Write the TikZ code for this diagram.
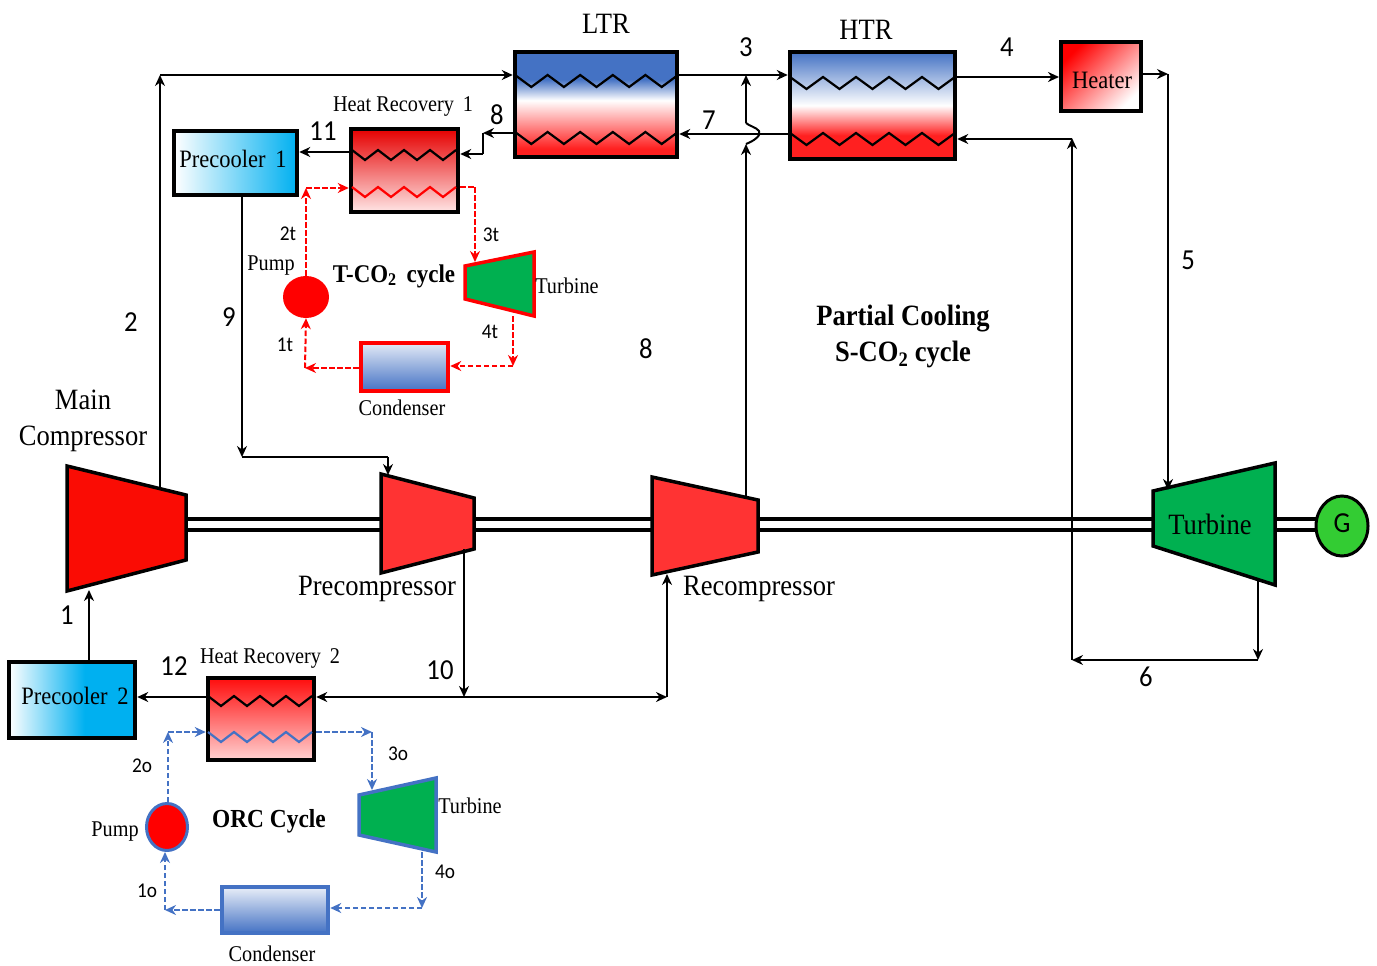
\documentclass[tikz,border=0pt]{standalone}
\usepackage{fontspec}
\setmainfont[FakeStretch=0.9]{Liberation Serif}
\newfontfamily\numfont[FakeStretch=0.92]{Carlito}
\usetikzlibrary{arrows.meta, shapes.geometric}
\definecolor{exblue}{HTML}{4472C4}
\definecolor{exred}{HTML}{FF2020}
\definecolor{coolblue}{HTML}{00B0F0}
\definecolor{turbgreen}{HTML}{00B050}
\definecolor{gengreen}{HTML}{33CC33}
\definecolor{mainred}{HTML}{FA0C04}
\definecolor{compred}{HTML}{FF3333}
\pgfdeclareverticalshading{ltrgrad}{100bp}{color(0bp)=(exred); color(29bp)=(exred); color(52bp)=(white); color(62bp)=(exblue); color(100bp)=(exblue)}
\pgfdeclareverticalshading{htrgrad}{100bp}{color(0bp)=(exred); color(36bp)=(exred); color(50bp)=(white); color(75bp)=(exblue); color(100bp)=(exblue)}
\pgfdeclarehorizontalshading{coolgrad}{100bp}{color(0bp)=(white); color(25bp)=(white); color(55bp)=(coolblue); color(100bp)=(coolblue)}
\newcommand{\coil}[6][black]{\draw[line width=2.2pt, #1] (#2,#3) \foreach \k in {1,...,#4}{ -- ++(#5/2,#6) -- ++(#5/2,-#6)};}
\tikzset{
    hxbox/.style={draw, line width=4.5pt, inner sep=0pt},
    flow/.style={line width=2pt, ->},
    redflow/.style={line width=2pt, red, dash pattern=on 5.5pt off 2.5pt, ->},
    blueflow/.style={line width=2pt, exblue, dash pattern=on 5.5pt off 2.5pt, ->},
    shaft/.style={line width=4pt, double=white, double distance=7pt},
    machine/.style={line width=3.5pt, line join=miter},
    lab/.style={inner sep=0pt, font=\fontsize{22.5}{24}\selectfont},
    boxlab/.style={inner sep=0pt, font=\fontsize{25}{28}\selectfont},
    biglab/.style={inner sep=0pt, align=center, font=\fontsize{29.5}{36}\selectfont},
    boldlab/.style={inner sep=0pt, align=center, font=\bfseries\fontsize{29.5}{36}\selectfont},
    numlab/.style={inner sep=0pt, font=\numfont\fontsize{29}{30}\selectfont},
    smallnum/.style={inner sep=0pt, font=\numfont\fontsize{21}{22}\selectfont},
}
\begin{document}
\begin{tikzpicture}[x=1pt, y=-1pt, >={Stealth[length=11pt, width=10pt]}]
    \useasboundingbox (0,0) rectangle (1377,966);

    % Machine ports
    \foreach \n/\px/\py in {mainE/186/524, preW/381/524, preE/474/524, reW/652/524, reE/758/524, turbW/1153/524, turbE/1275/524, genW/1320/524, mainS/89/590, mainN/160/488, preN/388/475, preS/464/549, reN/746/497, reS/667/574, turbN/1168/490, turbS/1258/580}{
        \coordinate (\n) at (\px,\py);
    }
    % Bends of the main loop
    \foreach \n/\px/\py in {b2/160/75, b3/746/75, b3up/746/123, b3low/746/144, b4/1059/77, b5/1168/74, b6/1258/660, b7/1072/660, b7up/1072/138, b8/483/133, b8low/483/154, b9/242/457, b9r/388/457, b10/464/697, b10r/667/697, b6top/1072/139, y7/700/134, y11/320/152}{
        \coordinate (\n) at (\px,\py);
    }
    % Bends of the two small cycles
    \foreach \n/\px/\py in {t2/306/188, t3/475/187, tt/475/262, t4top/513/316, t4/513/366, t1/305/368, o2/168/732, o3/372/732, ot/372/790, o4top/422/852, o4/422/908, o1/165/910}{
        \coordinate (\n) at (\px,\py);
    }

    % Shaft
    \foreach \a/\b in {mainE/preW, preE/reW, reE/turbW, turbE/genW}{
        \draw[shaft] (\a) -- (\b);
    }

    % Generator
    \node[ellipse, draw, line width=3pt, fill=gengreen, minimum width=52pt, minimum height=60pt, inner sep=0pt] (gen) at (1342,526) {};
    \node[numlab] (gentext) at (1342,523) {G};

    % Compressors and big turbine
    \draw[machine, fill=mainred] (67,466) -- (186,495) -- (186,560) -- (67,591) -- cycle;
    \draw[machine, fill=compred] (381,474) -- (474,498) -- (474,549) -- (381,573) -- cycle;
    \draw[machine, fill=compred] (652,477) -- (758,500) -- (758,552) -- (652,575) -- cycle;
    \draw[machine, fill=turbgreen] (1153,491) -- (1275,463) -- (1275,585) -- (1153,546) -- cycle;

    % Small turbines
    \draw[machine, red, fill=turbgreen] (465,266) -- (534,252) -- (534,316) -- (465,299) -- cycle;
    \draw[machine, exblue, fill=turbgreen] (359,795) -- (436,778) -- (436,852) -- (359,835) -- cycle;

    % Pumps
    \node[ellipse, fill=red, minimum width=46pt, minimum height=42pt, inner sep=0pt] (pumpt) at (306,297) {};
    \node[ellipse, draw=exblue, line width=3pt, fill=red, minimum width=41pt, minimum height=47pt, inner sep=0pt] (pumpo) at (167,827) {};

    % Heat exchangers
    \node[hxbox, shading=ltrgrad, minimum width=162pt, minimum height=105pt] (ltr) at (596,104.5) {};
    \node[hxbox, shading=htrgrad, minimum width=165pt, minimum height=107pt] (htr) at (872.5,105.5) {};
    \node[hxbox, top color=red!90!black, bottom color=red!10, minimum width=107pt, minimum height=83pt] (hr1) at (404.5,170.5) {};
    \node[hxbox, top color=red!95, bottom color=red!18, minimum width=106pt, minimum height=82pt] (hr2) at (261,719) {};
    \node[hxbox, left color=white, right color=coolblue, minimum width=123pt, minimum height=64pt] (pc1) at (235.5,163) {};
    \node[hxbox, shading=coolgrad, minimum width=126pt, minimum height=76pt] (pc2) at (72,700) {};
    \node[hxbox, left color=red, right color=white, shading angle=45, minimum width=80pt, minimum height=69pt] (heater) at (1101,76.5) {};
    \node[hxbox, draw=red, top color=exblue!15, bottom color=exblue, minimum width=87pt, minimum height=48pt] (condt) at (404.5,367) {};
    \node[hxbox, draw=exblue, top color=exblue!12, bottom color=exblue, minimum width=106pt, minimum height=46pt] (condo) at (275,910) {};

    % Coils
    \coil{515}{75}{5}{32.6}{12}
    \coil{515}{132}{5}{32.6}{12}
    \coil{790}{77}{5}{33}{12}
    \coil{790}{133}{5}{33}{12}
    \coil{352}{150}{4}{26}{10}
    \coil[red]{352}{187}{4}{26}{10}
    \coil{208}{696}{4}{26}{10}
    \coil[exblue]{208}{732}{4}{26}{10}

    % Main loop
    \draw[flow] (pc2.north -| mainS) -- (mainS);
    \draw[flow] (mainN) -- (b2);
    \draw[flow] (b2) -- (ltr.west |- b2);
    \draw[flow] (ltr.east |- b3) -- (htr.west |- b3);
    \draw[flow] (htr.west |- y7) -- (ltr.east |- y7);
    \draw[flow] (reN) -- (b3low);
    \draw[line width=2pt] (b3low) .. controls (754,141) and (762,135) .. (759,131) .. controls (756,127) and (749,126) .. (b3up);
    \draw[flow] (b3up) -- (b3);
    \draw[flow] (htr.east |- b4) -- (b4);
    \draw[line width=1.2pt, ->] (heater.east |- b5) -- (b5);
    \draw[flow, line width=1.7pt] (b5) -- (turbN);
    \draw[flow, line width=1.7pt] (turbS) -- (b6);
    \draw[flow] (b6) -- (b7);
    \draw[flow] (b7) -- (b7up);
    \draw[flow] (b6top) -- (htr.east |- b6top);
    \draw[flow] (ltr.west |- b8) -- (b8);
    \draw[line width=2pt] (b8) -- (b8low);
    \draw[flow] (b8low) -- (hr1.east |- b8low);
    \draw[flow] (hr1.west |- y11) -- (pc1.east |- y11);
    \draw[flow, line width=1.7pt] (pc1.south -| b9) -- (b9);
    \draw[line width=1.7pt] (b9) -- (b9r);
    \draw[flow, line width=1.7pt] (b9r) -- (preN);
    \draw[flow, line width=1.7pt] (preS) -- (b10);
    \draw[flow] (b10) -- (hr2.east |- b10);
    \draw[flow] (b10) -- (b10r);
    \draw[flow] (b10r) -- (reS);
    \draw[flow] (hr2.west |- b10) -- (pc2.east |- b10);

    % T-CO2 cycle
    \draw[redflow] (pumpt.north) -- (t2);
    \draw[redflow] (t2) -- (hr1.west |- t2);
    \draw[red, line width=2pt, dash pattern=on 5.5pt off 2.5pt] (hr1.east |- t3) -- (t3);
    \draw[redflow] (t3) -- (tt);
    \draw[redflow] (t4top) -- (t4);
    \draw[redflow] (t4) -- (condt.east |- t4);
    \draw[redflow] (condt.west |- t1) -- (t1);
    \draw[redflow] (t1) -- (pumpt.south);

    % ORC cycle
    \draw[blueflow] (pumpo.north -| o2) -- (o2);
    \draw[blueflow] (o2) -- (hr2.west |- o2);
    \draw[blueflow] (hr2.east |- o3) -- (o3);
    \draw[blueflow] (o3) -- (ot);
    \draw[blueflow] (o4top) -- (o4);
    \draw[blueflow] (o4) -- (condo.east |- o4);
    \draw[blueflow] (condo.west |- o1) -- (o1);
    \draw[blueflow] (o1) -- (pumpo.south -| o1);

    % Stream numbers
    \foreach \n/\px/\py/\txt in {s3/746/47/3, s4/1007/47/4, s7/709/120/7, s8/497/115/8, s11/323/131/11, s5/1188/260/5, s2/131/322/2, s9/229/317/9, s8b/646/349/8, s1/67/615/1, s12/174/666/12, s10/440/670/10, s6/1146/677/6}{
        \node[numlab] (\n) at (\px,\py) {\txt};
    }
    \foreach \n/\px/\py/\txt in {st2/288/234/2t, st3/491/235/3t, st4/490/332/4t, st1/285/345/1t, so2/142/766/2o, so3/398/754/3o, so4/445/872/4o, so1/147/891/1o}{
        \node[smallnum] (\n) at (\px,\py) {\txt};
    }

    % Labels
    \node[biglab] (ltrtext) at (606,24) {LTR};
    \node[biglab] (htrtext) at (866,30) {HTR};
    \node[boxlab] (heatertext) at (1102,80) {Heater};
    \node[boxlab] (pc1text) at (233,159) {Precooler\, 1};
    \node[boxlab] (pc2text) at (75,696) {Precooler\, 2};
    \node[lab] (hr1text) at (403,107) {Heat Recovery\, 1};
    \node[lab] (hr2text) at (270,658) {Heat Recovery\, 2};
    \node[lab] (pumpttext) at (271,266) {Pump};
    \node[lab] (pumpotext) at (115,832) {Pump};
    \node[lab] (turbttext) at (567,286) {Turbine};
    \node[lab] (turbotext) at (470,806) {Turbine};
    \node[lab] (condttext) at (402,408) {Condenser};
    \node[lab] (condotext) at (272,954) {Condenser};
    \node[lab, font=\bfseries\fontsize{25.5}{28}\selectfont] (tco2text) at (394,276) {T-CO\textsubscript{2}\, cycle};
    \node[lab, font=\bfseries\fontsize{26}{28}\selectfont] (orctext) at (269,821) {ORC Cycle};
    \node[boldlab] (cycletext) at (903,336) {Partial Cooling\\S-CO\textsubscript{2} cycle};
    \node[biglab] (maintext) at (83,421) {Main\\Compressor};
    \node[biglab] (pretext) at (377,589) {Precompressor};
    \node[biglab] (retext) at (759,589) {Recompressor};
    \node[biglab] (turbtext) at (1210,524) {Turbine};
\end{tikzpicture}
\end{document}
